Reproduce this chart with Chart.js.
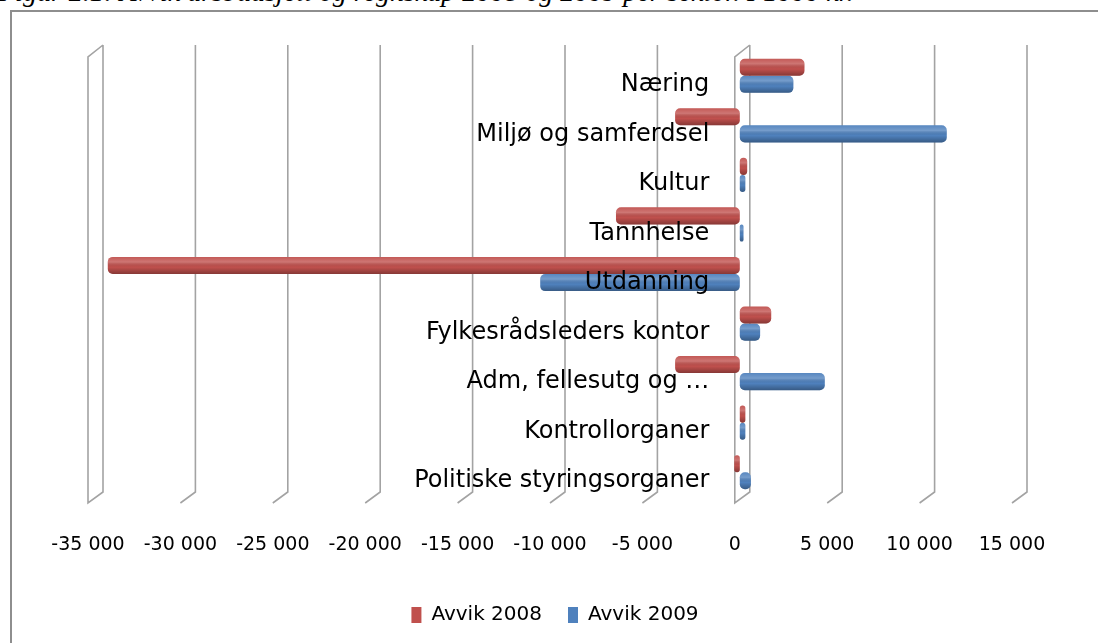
<!DOCTYPE html>
<html>
<head>
<meta charset="utf-8">
<script src="https://cdn.jsdelivr.net/npm/chart.js@4.4.1/dist/chart.umd.min.js"></script>
<style>
  html, body { margin: 0; padding: 0; background: #fff; overflow: hidden; width: 1098px; height: 643px; }
  #caption {
    position: absolute; left: -2px; top: -22px; white-space: nowrap; line-height: 28px;
    font-family: "Liberation Serif", serif; font-style: italic; font-size: 28px; color: #000;
  }
  #frame {
    position: absolute; left: 10px; top: 10px; width: 1200px; height: 800px;
    border: 2px solid #8e8e8e; box-sizing: border-box;
  }
  #chart { position: absolute; left: 0; top: 0; }
</style>
</head>
<body>
<div id="caption">Figur 2.1: Avvik årsbudsjett og regnskap 2008 og 2009 per sektor. I 1000 kr.</div>
<div id="frame"></div>
<canvas id="chart" width="1098" height="650"></canvas>
<script>
const sectors = [
    'Næring',
    'Miljø og samferdsel',
    'Kultur',
    'Tannhelse',
    'Utdanning',
    'Fylkesrådsleders kontor',
    'Adm, fellesutg og …',
    'Kontrollorganer',
    'Politiske styringsorganer'
];
const avvik2008 = [3500, -3500, 400, -6700, -34200, 1700, -3500, 300, -300];
const avvik2009 = [2900, 11200, 300, 200, -10800, 1100, 4600, 300, 600];
const xTickLabels = ['-35 000', '-30 000', '-25 000', '-20 000', '-15 000', '-10 000', '-5 000', '0', '5 000', '10 000', '15 000'];

const red = '#c0504d';
const blue = '#4f81bd';
const font = '"DejaVu Sans", sans-serif';

// back-wall gridlines with the little 3D floor slant
const wallPlugin = {
    id: 'wall',
    beforeDatasetsDraw(chart) {
        const ctx = chart.ctx;
        const xs = chart.scales.x;
        const area = chart.chartArea;
        const topBack = area.top - 6, botBack = area.bottom - 5;
        const topFront = area.top + 6, botFront = area.bottom + 6;
        ctx.save();
        ctx.strokeStyle = '#a3a3a3';
        ctx.lineWidth = 1.6;
        xs.ticks.forEach(t => {
            const back = xs.getPixelForValue(t.value) + 10;
            const front = back - 15;
            ctx.beginPath();
            ctx.moveTo(back, topBack);
            ctx.lineTo(back, botBack);
            ctx.lineTo(front, botFront);
            if (t.value === -35000 || t.value === 0) {
                ctx.lineTo(front, topFront);
                ctx.lineTo(back, topBack);
            }
            ctx.stroke();
        });
        ctx.restore();
    },
    afterDatasetsDraw(chart) {
        // cylinder shading over each bar
        const ctx = chart.ctx;
        ctx.save();
        chart.data.datasets.forEach((ds, i) => {
            chart.getDatasetMeta(i).data.forEach(bar => {
                const left = Math.min(bar.x, bar.base);
                const w = Math.abs(bar.x - bar.base);
                const top = bar.y - bar.height / 2;
                const g = ctx.createLinearGradient(0, top, 0, top + bar.height);
                g.addColorStop(0, 'rgba(255,255,255,0.05)');
                g.addColorStop(0.3, 'rgba(255,255,255,0.22)');
                g.addColorStop(0.6, 'rgba(0,0,0,0)');
                g.addColorStop(1, 'rgba(0,0,0,0.3)');
                ctx.fillStyle = g;
                ctx.beginPath();
                ctx.roundRect(left, top, w, bar.height, 5);
                ctx.fill();
            });
        });
        ctx.restore();
    }
};

new Chart(document.getElementById('chart'), {
    type: 'bar',
    data: {
        labels: sectors,
        datasets: [
            { label: 'Avvik 2008', data: avvik2008, backgroundColor: red },
            { label: 'Avvik 2009', data: avvik2009, backgroundColor: blue }
        ]
    },
    options: {
        indexAxis: 'y',
        responsive: false,
        animation: false,
        layout: { padding: { left: 93, right: 81, top: 51, bottom: 15 } },
        datasets: {
            bar: {
                barPercentage: 1,
                categoryPercentage: 0.69,
                borderRadius: 5,
                borderSkipped: false
            }
        },
        scales: {
            x: {
                min: -35000,
                max: 15000,
                grid: { display: false, drawTicks: false },
                border: { display: false },
                ticks: {
                    stepSize: 5000,
                    padding: 37,
                    labelOffset: -5,
                    color: '#000',
                    font: { family: font, size: 19 },
                    callback: (v, i) => xTickLabels[i]
                },
                afterFit: scale => { scale.height = 82; }
            },
            y: {
                position: { x: -1650 },
                grid: { display: false },
                border: { display: false },
                ticks: {
                    z: 1,
                    autoSkip: false,
                    labelOffset: 9,
                    color: '#000',
                    font: { family: font, size: 24 }
                }
            }
        },
        plugins: {
            legend: {
                position: 'bottom',
                labels: {
                    boxWidth: 10,
                    boxHeight: 16,
                    padding: 26,
                    color: '#000',
                    font: { family: font, size: 20 }
                }
            },
            tooltip: { enabled: false }
        }
    },
    plugins: [wallPlugin]
});
</script>
</body>
</html>
